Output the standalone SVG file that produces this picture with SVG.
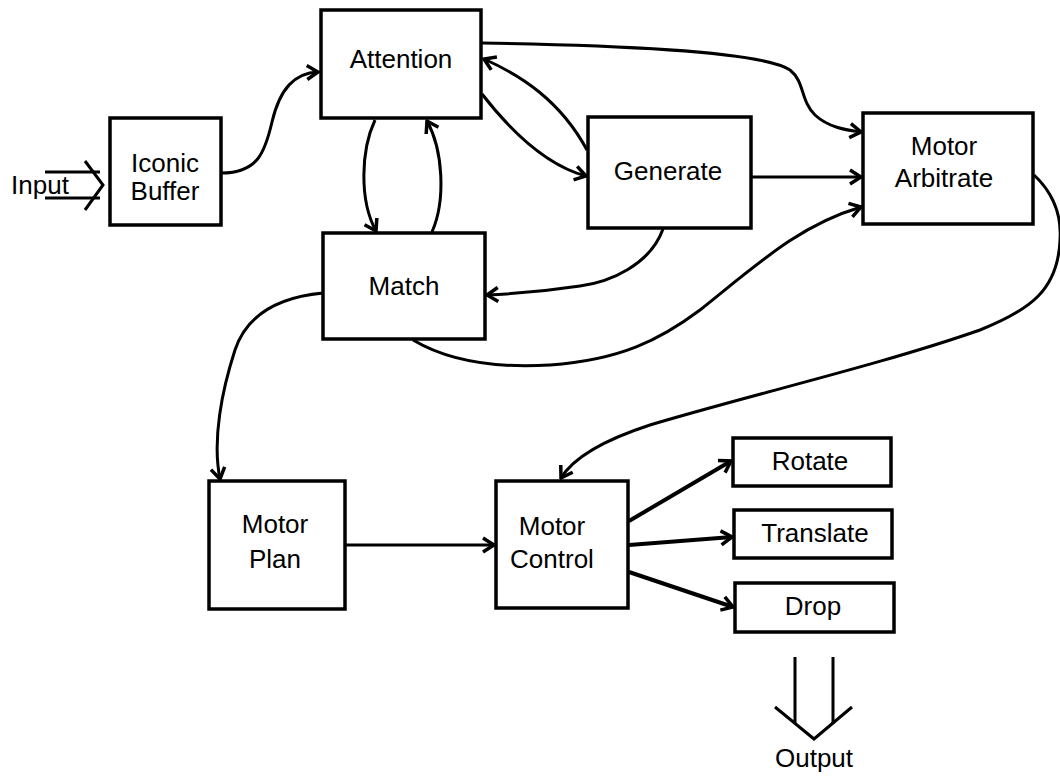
<svg xmlns="http://www.w3.org/2000/svg" width="1060" height="776" viewBox="0 0 1060 776">
<defs>
<style>
.box{fill:#fff;stroke:#000;stroke-width:3.5}
.t{font-family:"Liberation Sans",Arial,sans-serif;font-size:26px;fill:#000;text-anchor:middle}
.c{fill:none;stroke:#000;stroke-width:3;marker-end:url(#ah)}
.c4{fill:none;stroke:#000;stroke-width:4;marker-end:url(#ah)}
.l{fill:none;stroke:#000;stroke-width:3}
</style>
<marker id="ah" markerUnits="userSpaceOnUse" viewBox="-16 -10 18 20" markerWidth="18" markerHeight="20" refX="0" refY="0" orient="auto">
<path d="M-11,-7 L0,0 L-11,7" fill="none" stroke="#000" stroke-width="3.5" stroke-linejoin="miter"/>
</marker>
</defs>
<rect width="1060" height="776" fill="#fff"/>
<g id="connectors">
<path class="c" d="M221,173 C258,173 265,152 272,122 C280,88 295,73 318,72"/>
<path class="c" d="M375,120 C361,150 359,200 376,231"/>
<path class="c" d="M432,232 C446,200 443,150 427,121"/>
<path class="c" d="M482,94 C510,130 545,165 586,176"/>
<path class="c" d="M587,150 C560,100 520,75 484,59"/>
<path class="c" d="M482,43 C600,45 760,50 790,70 C805,82 800,100 815,115 C828,127 845,130 861,132"/>
<path class="c" d="M751,177 L861,177"/>
<path class="c" d="M413,340 C450,362 500,368 550,365 C620,360 660,340 700,310 C760,262 800,225 861,207"/>
<path class="c" d="M663,229 C650,265 610,282 580,286 C540,292 510,294 487,295"/>
<path class="c" d="M323,293 C270,298 245,320 235,350 C222,390 212,440 220,479"/>
<path class="c" d="M1034,175 C1050,190 1062,210 1060,240 C1058,290 1030,310 980,330 C880,365 750,395 650,425 C610,438 575,455 561,478"/>
<path class="c" d="M345,545 L494,545"/>
<path class="c4" d="M629,521 L731,461"/>
<path class="c4" d="M629,545 L732,537"/>
<path class="c4" d="M629,572 L733,607"/>
</g>
<g id="input">
<path class="l" d="M45,172 L100,172 M45,198 L100,198"/>
<path class="l" d="M85,161 L103,185 L85,210" stroke-width="3.5"/>
<text class="t" x="40" y="194">Input</text>
</g>
<g id="iconic-buffer">
<rect class="box" x="110" y="118" width="111" height="107"/>
<text class="t" x="165" y="172">Iconic</text>
<text class="t" x="165" y="200">Buffer</text>
</g>
<g id="attention">
<rect class="box" x="321" y="10" width="160" height="108"/>
<text class="t" x="401" y="68">Attention</text>
</g>
<g id="match">
<rect class="box" x="323" y="233" width="162" height="106"/>
<text class="t" x="404" y="295">Match</text>
</g>
<g id="generate">
<rect class="box" x="588" y="117" width="163" height="111"/>
<text class="t" x="668" y="180">Generate</text>
</g>
<g id="motor-arbitrate">
<rect class="box" x="863" y="113" width="170" height="111"/>
<text class="t" x="944" y="155">Motor</text>
<text class="t" x="944" y="187">Arbitrate</text>
</g>
<g id="motor-plan">
<rect class="box" x="209" y="481" width="136" height="128"/>
<text class="t" x="275" y="533">Motor</text>
<text class="t" x="275" y="568">Plan</text>
</g>
<g id="motor-control">
<rect class="box" x="496" y="481" width="132" height="127"/>
<text class="t" x="552" y="535">Motor</text>
<text class="t" x="552" y="568">Control</text>
</g>
<g id="rotate">
<rect class="box" x="733" y="438" width="158" height="48"/>
<text class="t" x="810" y="470">Rotate</text>
</g>
<g id="translate">
<rect class="box" x="734" y="510" width="158" height="48"/>
<text class="t" x="815" y="542">Translate</text>
</g>
<g id="drop">
<rect class="box" x="735" y="583" width="159" height="49"/>
<text class="t" x="813" y="615">Drop</text>
</g>
<g id="output">
<path class="l" d="M795,657 L795,724 M833,657 L833,724"/>
<path class="l" d="M775,707 L814,739 L852,707" stroke-width="3.5"/>
<text class="t" x="814" y="767">Output</text>
</g>
</svg>
